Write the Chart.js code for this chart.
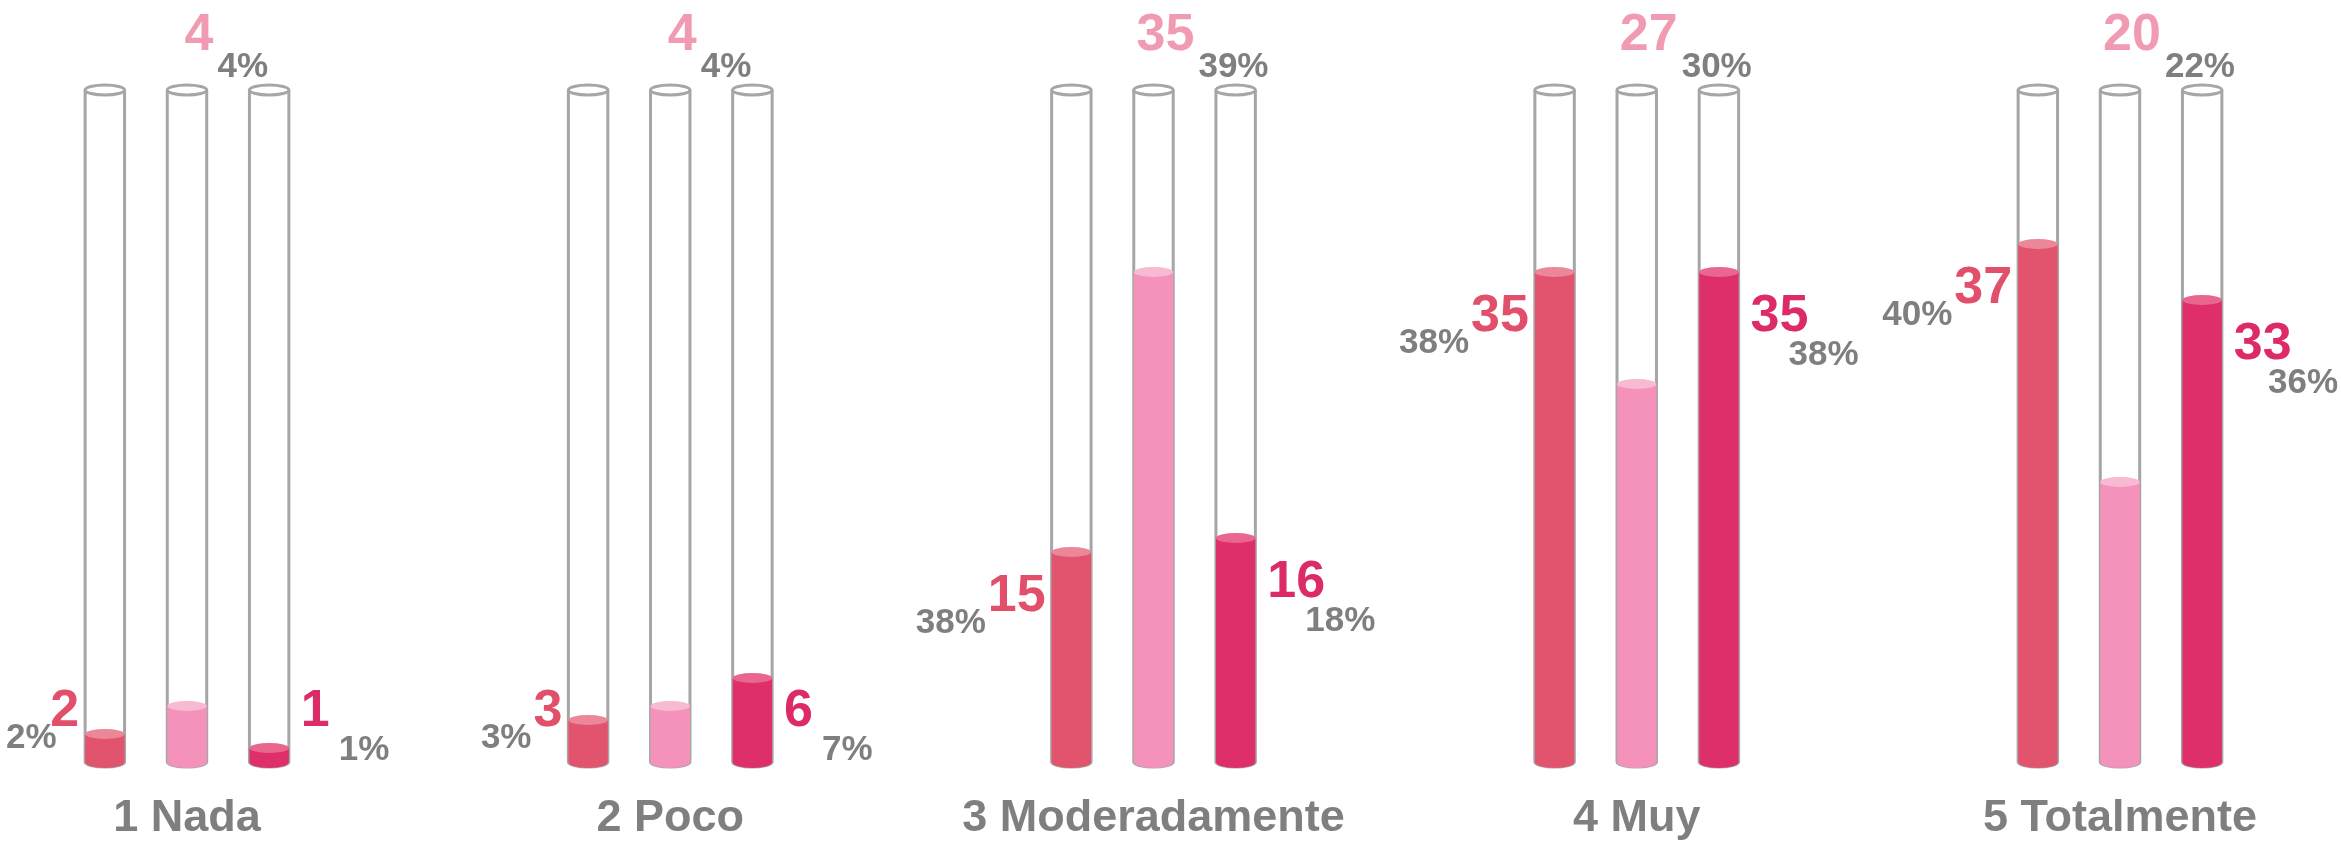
<!DOCTYPE html>
<html>
<head>
<meta charset="utf-8">
<script src="https://cdn.jsdelivr.net/npm/chart.js@4/dist/chart.umd.min.js"></script>
<style>
  html, body { margin: 0; padding: 0; background: #fff; }
</style>
</head>
<body>
<canvas id="tubeChart" width="2341" height="845"></canvas>
<script>
// data
var categories = ['1 Nada', '2 Poco', '3 Moderadamente', '4 Muy', '5 Totalmente'];
var serie1 = [2, 3, 15, 35, 37];
var serie2 = [4, 4, 35, 27, 20];
var serie3 = [1, 6, 16, 35, 33];
var pct1 = ['2%', '3%', '38%', '38%', '40%'];
var pct2 = ['4%', '4%', '39%', '30%', '22%'];
var pct3 = ['1%', '7%', '18%', '38%', '36%'];
var tubeMax = 48;

var fillColors = ['#e2536e', '#f592bc', '#de2f6a'];
var topColors = ['#ec8799', '#f8b9d3', '#e9668f'];
var labelColors = ['#e14f6b', '#f19bb2', '#dc2b67'];
var grey = '#7f7f7f';
var family = '"Liberation Sans", Arial, sans-serif';

// glass tubes behind the bars, cylinder caps and labels on top
var tubePlugin = {
  id: 'tubes',
  beforeDatasetsDraw: function (chart) {
    var ctx = chart.ctx;
    var top = chart.scales.y.getPixelForValue(tubeMax);
    chart.data.datasets.forEach(function (ds, i) {
      chart.getDatasetMeta(i).data.forEach(function (bar) {
        var w = bar.width, x = bar.x, base = bar.base;
        ctx.save();
        ctx.strokeStyle = '#a6a6a6';
        ctx.lineWidth = 3;
        ctx.fillStyle = '#fff';
        ctx.beginPath();
        ctx.moveTo(x - w / 2, top);
        ctx.lineTo(x - w / 2, base);
        ctx.ellipse(x, base, w / 2, 5, 0, Math.PI, 0, true);
        ctx.lineTo(x + w / 2, top);
        ctx.stroke();
        ctx.beginPath();
        ctx.ellipse(x, top, w / 2, 5, 0, 0, Math.PI * 2);
        ctx.fill();
        ctx.stroke();
        ctx.restore();
      });
    });
  },
  afterDatasetsDraw: function (chart) {
    var ctx = chart.ctx;
    var top = chart.scales.y.getPixelForValue(tubeMax);
    var pcts = [pct1, pct2, pct3];
    chart.data.datasets.forEach(function (ds, i) {
      chart.getDatasetMeta(i).data.forEach(function (bar, j) {
        var w = bar.width, x = bar.x, base = bar.base, y = bar.y;
        ctx.save();
        // rounded bottom and lighter liquid surface
        ctx.fillStyle = fillColors[i];
        ctx.beginPath();
        ctx.ellipse(x, base, w / 2, 6, 0, 0, Math.PI);
        ctx.fill();
        ctx.fillStyle = topColors[i];
        ctx.beginPath();
        ctx.ellipse(x, y, w / 2, 5, 0, 0, Math.PI * 2);
        ctx.fill();

        var count = String(ds.data[j]);
        var pct = pcts[i][j];
        ctx.textBaseline = 'middle';
        ctx.font = 'bold 52px ' + family;
        var cw = ctx.measureText(count).width;
        var ly = Math.min(y + 45, base - 50);
        if (i === 0) {
          ctx.fillStyle = labelColors[i];
          ctx.textAlign = 'right';
          ctx.fillText(count, x - w / 2 - 6, ly);
          ctx.font = 'bold 35px ' + family;
          ctx.fillStyle = grey;
          var pw = ctx.measureText(pct).width;
          ctx.fillText(pct, Math.max(x - w / 2 - 6 - cw - 2, pw + 6), ly + 26);
        } else if (i === 1) {
          ctx.fillStyle = labelColors[i];
          ctx.textAlign = 'center';
          ctx.fillText(count, x + 12, top - 54);
          ctx.font = 'bold 35px ' + family;
          ctx.fillStyle = grey;
          ctx.textAlign = 'left';
          ctx.fillText(pct, x + 12 + cw / 2 + 4, top - 23);
        } else {
          ctx.fillStyle = labelColors[i];
          ctx.textAlign = 'left';
          ctx.fillText(count, x + w / 2 + 12, ly);
          ctx.font = 'bold 35px ' + family;
          ctx.fillStyle = grey;
          var pw3 = ctx.measureText(pct).width;
          ctx.fillText(pct, Math.min(x + w / 2 + 12 + 38, chart.width - pw3 - 3), ly + 38);
        }
        ctx.restore();
      });
    });
  }
};

function makeSet(label, data, idx) {
  return {
    label: label,
    data: data,
    backgroundColor: fillColors[idx],
    borderWidth: 0,
    clip: false,
    categoryPercentage: 0.51,
    barPercentage: 0.48
  };
}

var ctx = document.getElementById('tubeChart').getContext('2d');
var tubeChart = new Chart(ctx, {
  type: 'bar',
  data: {
    labels: categories,
    datasets: [
      makeSet('Serie 1', serie1, 0),
      makeSet('Serie 2', serie2, 1),
      makeSet('Serie 3', serie3, 2)
    ]
  },
  options: {
    responsive: false,
    animation: false,
    devicePixelRatio: 1,
    layout: { padding: { top: 90, left: 187, right: 221, bottom: 0 } },
    plugins: { legend: { display: false }, tooltip: { enabled: false } },
    scales: {
      x: {
        offset: false,
        grid: { display: false, drawTicks: false },
        border: { display: false },
        afterFit: function (scale) { scale.height = 83; },
        ticks: {
          padding: 30,
          color: grey,
          autoSkip: false,
          maxRotation: 0,
          font: { family: family, size: 45, weight: 'bold' }
        }
      },
      y: { display: false, min: 0, max: tubeMax }
    }
  },
  plugins: [tubePlugin]
});
</script>
</body>
</html>
